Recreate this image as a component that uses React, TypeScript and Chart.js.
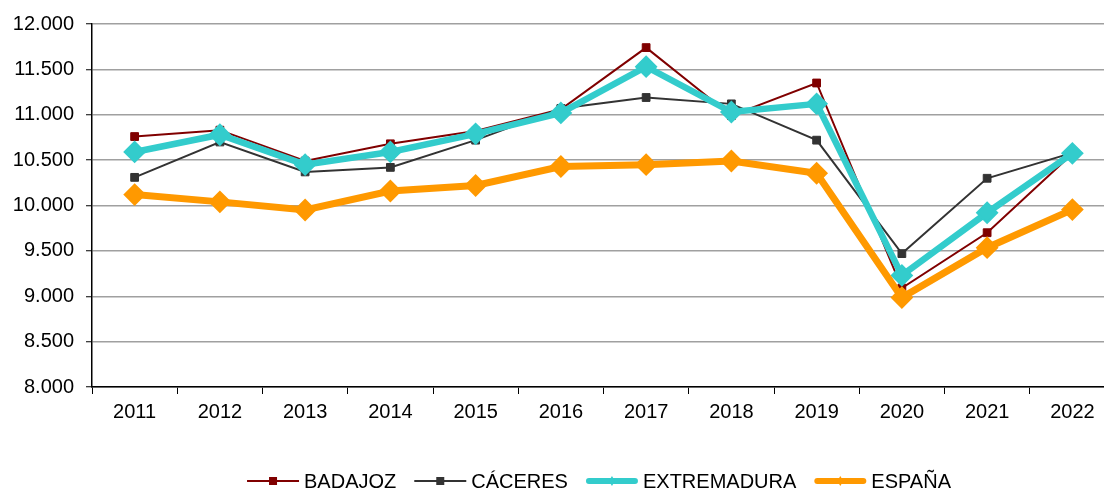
import React, { useEffect, useRef } from "react";
import { Chart, registerables } from "chart.js";

Chart.register(...registerables);

const years = ["2011", "2012", "2013", "2014", "2015", "2016", "2017", "2018", "2019", "2020", "2021", "2022"];
const badajoz = [10760, 10830, 10490, 10680, 10820, 11060, 11740, 10990, 11350, 9090, 9700, 10570];
const caceres = [10310, 10700, 10370, 10420, 10720, 11070, 11190, 11120, 10720, 9470, 10300, 10580];
const extremadura = [10590, 10780, 10450, 10590, 10790, 11020, 11530, 11030, 11120, 9230, 9920, 10575];
const espana = [10120, 10040, 9950, 10160, 10220, 10430, 10450, 10490, 10355, 8985, 9535, 9955];
const seriesNames = ["BADAJOZ", "CÁCERES", "EXTREMADURA", "ESPAÑA"];

const FONT = "'Liberation Sans', Arial, sans-serif";

const fmt = (v: number) => {
  const s = Math.round(v).toString();
  const th = s.slice(0, s.length - 3);
  const rest = s.slice(s.length - 3);
  return th ? th + "." + rest : rest;
};

const legendSpec = [
  { name: seriesNames[0], color: "#800000", lw: 2, style: "rect", r: 4 },
  { name: seriesNames[1], color: "#333333", lw: 2, style: "rect", r: 4 },
  { name: seriesNames[2], color: "#33CCCC", lw: 6, style: "diamond", r: 4 },
  { name: seriesNames[3], color: "#FF9900", lw: 6, style: "diamond", r: 4 },
];

const legendPlugin = {
  id: "customLegend",
  afterDraw(chart: any) {
    const ctx = chart.ctx as CanvasRenderingContext2D;
    ctx.save();
    ctx.font = `20px ${FONT}`;
    const lineLen = 52;
    const gapText = 5;
    const gapItem = 18;
    const widths = legendSpec.map((s) => lineLen + gapText + ctx.measureText(s.name).width);
    const total = widths.reduce((a, b) => a + b, 0) + gapItem * (legendSpec.length - 1);
    let x = 599 - total / 2;
    const y = 481;
    legendSpec.forEach((s, i) => {
      ctx.strokeStyle = s.color;
      ctx.lineWidth = s.lw;
      ctx.lineCap = s.lw > 3 ? "round" : "butt";
      ctx.beginPath();
      ctx.moveTo(x + (s.lw > 3 ? s.lw / 2 : 0), y);
      ctx.lineTo(x + lineLen - (s.lw > 3 ? s.lw / 2 : 0), y);
      ctx.stroke();
      const cx = x + lineLen / 2;
      ctx.fillStyle = s.color;
      if (s.style === "rect") {
        ctx.fillRect(cx - s.r, y - s.r, s.r * 2, s.r * 2);
      } else {
        ctx.beginPath();
        ctx.moveTo(cx, y - s.r - 1);
        ctx.lineTo(cx + s.r - 1, y);
        ctx.lineTo(cx, y + s.r + 1);
        ctx.lineTo(cx - s.r + 1, y);
        ctx.closePath();
        ctx.fill();
      }
      ctx.fillStyle = "#000";
      ctx.textBaseline = "middle";
      ctx.textAlign = "left";
      ctx.fillText(s.name, x + lineLen + gapText, y + 1);
      x += widths[i] + gapItem;
    });
    ctx.restore();
  },
};

export default function App() {
  const ref = useRef<HTMLCanvasElement | null>(null);
  useEffect(() => {
    if (!ref.current) return;
    const chart = new Chart(ref.current, {
      type: "line",
      data: {
        labels: years,
        datasets: [
          {
            label: seriesNames[0],
            data: badajoz,
            borderColor: "#800000",
            backgroundColor: "#800000",
            borderWidth: 2,
            pointStyle: "rect",
            pointRadius: 5.5,
            pointBorderWidth: 1,
            order: 3,
          },
          {
            label: seriesNames[1],
            data: caceres,
            borderColor: "#333333",
            backgroundColor: "#333333",
            borderWidth: 2,
            pointStyle: "rect",
            pointRadius: 5.5,
            pointBorderWidth: 1,
            order: 2,
          },
          {
            label: seriesNames[2],
            data: extremadura,
            borderColor: "#33CCCC",
            backgroundColor: "#33CCCC",
            borderWidth: 6.5,
            pointStyle: "rectRot",
            pointRadius: 10,
            pointBorderWidth: 2,
            order: 1,
          },
          {
            label: seriesNames[3],
            data: espana,
            borderColor: "#FF9900",
            backgroundColor: "#FF9900",
            borderWidth: 7,
            pointStyle: "rectRot",
            pointRadius: 10,
            pointBorderWidth: 2,
            order: 0,
          },
        ],
      },
      options: {
        animation: false,
        responsive: false,
        maintainAspectRatio: false,
        devicePixelRatio: 1,
        layout: { padding: { top: 22, right: 15, left: 0, bottom: 0 } },
        elements: { line: { tension: 0, borderJoinStyle: "miter" } },
        plugins: { legend: { display: false }, tooltip: { enabled: false }, title: { display: false } },
        scales: {
          x: {
            type: "category",
            offset: true,
            grid: {
              offset: true,
              drawOnChartArea: false,
              drawTicks: true,
              tickLength: 7,
              tickColor: "#000",
              tickWidth: 1,
            },
            border: { display: true, color: "#000", width: 1.5 },
            ticks: { color: "#000", font: { family: FONT, size: 20 }, padding: 6, maxRotation: 0, autoSkip: false },
            afterFit: (s: any) => {
              s.height = 103;
            },
          },
          y: {
            min: 8000,
            max: 12000,
            ticks: {
              stepSize: 500,
              color: "#000",
              font: { family: FONT, size: 20 },
              padding: 12,
              callback: (v: any) => fmt(Number(v)),
            },
            grid: {
              color: "#a0a0a0",
              lineWidth: 1.5,
              drawTicks: true,
              tickLength: 6,
              tickColor: "#000",
              tickWidth: 1,
            },
            border: { display: true, color: "#000", width: 1.5 },
            afterFit: (s: any) => {
              s.width = 92;
            },
          },
        },
      },
      plugins: [legendPlugin],
    });
    return () => chart.destroy();
  }, []);
  return (
    <div style={{ position: "fixed", left: 0, top: 0, width: 1104, height: 490, overflow: "hidden", background: "#fff" }}>
      <canvas ref={ref} width={1130} height={490} style={{ width: 1130, height: 490, display: "block" }} />
    </div>
  );
}
